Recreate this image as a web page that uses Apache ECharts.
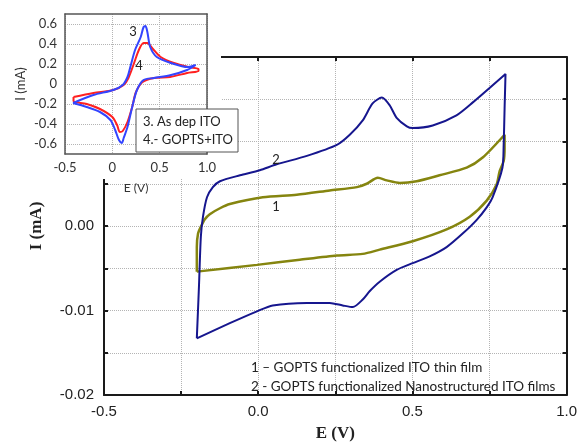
<!DOCTYPE html>
<html>
<head>
<meta charset="utf-8">
<script src="https://cdn.jsdelivr.net/npm/echarts@6/dist/echarts.min.js"></script>
<style>
  html, body { margin: 0; padding: 0; background: #fff; }
  #main { width: 580px; height: 447px; }
</style>
</head>
<body>
<div id="main"></div>
<script>
// curva 1 - GOPTS / ITO capa fina
var curve1E = [-0.199,-0.199,-0.195,-0.186,-0.173,-0.157,-0.124,-0.092,0.015,0.125,0.232,0.320,0.352,0.388,0.417,0.459,0.514,0.588,0.676,0.728,0.799,0.799,0.796,0.783,0.773,0.741,0.686,0.611,0.501,0.394,0.339,0.255,0.135,-0.004,-0.199];
var curve1I = [-0.0054,-0.0025,-0.0009,-0.0001,0.0008,0.0014,0.0021,0.0026,0.0034,0.0037,0.0042,0.0046,0.0050,0.0057,0.0054,0.0051,0.0053,0.0060,0.0069,0.0081,0.0108,0.0092,0.0077,0.0065,0.0049,0.0030,0.0011,-0.0004,-0.0018,-0.0028,-0.0033,-0.0035,-0.0040,-0.0046,-0.0054];
// curva 2 - GOPTS / ITO nanoestructurado
var curve2E = [-0.199,-0.192,-0.186,-0.179,-0.166,-0.147,-0.124,-0.059,0.005,0.060,0.158,0.255,0.297,0.339,0.371,0.401,0.426,0.449,0.482,0.501,0.566,0.643,0.695,0.802,0.799,0.796,0.792,0.760,0.741,0.708,0.663,0.611,0.556,0.501,0.449,0.394,0.362,0.339,0.307,0.274,0.232,0.158,0.047,-0.004,-0.092,-0.199];
var curve2I = [-0.0133,-0.0071,-0.0013,0.0011,0.0034,0.0046,0.0053,0.0060,0.0066,0.0073,0.0083,0.0096,0.0108,0.0125,0.0145,0.0152,0.0143,0.0128,0.0118,0.0116,0.0119,0.0131,0.0146,0.0180,0.0139,0.0096,0.0069,0.0034,0.0022,0.0007,-0.0009,-0.0025,-0.0036,-0.0044,-0.0052,-0.0066,-0.0077,-0.0087,-0.0096,-0.0094,-0.0091,-0.0091,-0.0094,-0.0101,-0.0115,-0.0133];
// inset: 3 As dep ITO
var curve3E = [-0.415,-0.20,0.01,0.11,0.16,0.19,0.24,0.30,0.33,0.35,0.37,0.40,0.47,0.62,0.80,0.88,0.79,0.62,0.44,0.33,0.26,0.21,0.16,0.12,0.10,0.07,0.03,-0.02,-0.13,-0.27,-0.415];
var curve3I = [-0.19,-0.11,-0.06,-0.01,0.07,0.17,0.34,0.47,0.57,0.58,0.52,0.37,0.27,0.21,0.17,0.19,0.14,0.09,0.06,0.04,-0.06,-0.23,-0.43,-0.54,-0.59,-0.56,-0.46,-0.36,-0.28,-0.23,-0.19];
// inset: 4 GOPTS+ITO
var curve4E = [-0.41,-0.20,0.01,0.12,0.17,0.23,0.28,0.33,0.37,0.42,0.51,0.65,0.80,0.91,0.91,0.79,0.61,0.44,0.32,0.25,0.21,0.16,0.11,0.08,0.05,0.00,-0.13,-0.27,-0.41,-0.41];
var curve4I = [-0.13,-0.09,-0.06,-0.01,0.06,0.21,0.34,0.41,0.41,0.36,0.27,0.21,0.17,0.15,0.13,0.11,0.07,0.06,0.02,-0.08,-0.23,-0.38,-0.47,-0.48,-0.41,-0.33,-0.25,-0.20,-0.17,-0.13];
var insetYTicks = [-0.6,-0.4,-0.2,0,0.2,0.4,0.6];

function pares(e, i) {
  return e.map(function (v, k) { return [v, i[k]]; });
}

var myChart = echarts.init(document.getElementById('main'));

var ejeNegro = { onZero: false, lineStyle: { color: '#1a1a1a', width: 2 } };
var ejeGris = { onZero: false, lineStyle: { color: '#555', width: 1.5 } };
var rejilla = { show: true, lineStyle: { color: '#b4b4b4', type: 'dotted', width: 1 } };
var ticks = { inside: true, length: 4, lineStyle: { color: '#1a1a1a', width: 2 } };
var fuenteNum = 'Liberation Sans';
var fuenteTxt = 'Lato';

var option = {
  animation: false,
  backgroundColor: '#fff',
  grid: [
    { left: 104, right: 13, top: 57, bottom: 47 },
    { left: 65, top: 14, width: 142, height: 140, z: 10 }
  ],
  xAxis: [
    {
      gridIndex: 0, type: 'value', min: -0.5, max: 1.0, interval: 0.25,
      name: 'E (V)', nameLocation: 'middle', nameGap: 30,
      nameTextStyle: { fontFamily: 'Liberation Serif', fontWeight: 'bold', fontSize: 17, color: '#222' },
      axisLine: ejeNegro, axisTick: ticks,
      axisLabel: {
        margin: 9, fontFamily: fuenteNum, fontSize: 15, color: '#222',
        formatter: function (v) { return Math.round(v * 4) % 2 === 0 ? v.toFixed(1) : ''; }
      },
      splitLine: rejilla
    },
    {
      gridIndex: 0, type: 'value', min: -0.5, max: 1.0, interval: 0.25, position: 'top',
      axisLine: ejeNegro, axisTick: ticks,
      axisLabel: { show: false }, splitLine: { show: false }
    },
    {
      gridIndex: 1, type: 'value', min: -0.5, max: 1.0, interval: 0.5, z: 10,
      name: 'E (V)', nameLocation: 'middle', nameGap: 28,
      nameTextStyle: { fontFamily: fuenteTxt, fontSize: 12, color: '#333' },
      axisLine: ejeGris, axisTick: { show: false },
      axisLabel: {
        margin: 7, fontFamily: fuenteTxt, fontSize: 13, color: '#333',
        formatter: function (v) { return v === 0 ? '0' : v.toFixed(1); }
      },
      splitLine: rejilla
    },
    {
      gridIndex: 1, type: 'value', min: -0.5, max: 1.0, interval: 0.5, position: 'top', z: 10,
      axisLine: ejeGris, axisTick: { show: false }, axisLabel: { show: false }, splitLine: { show: false }
    }
  ],
  yAxis: [
    {
      gridIndex: 0, type: 'value', min: -0.02, max: 0.02, interval: 0.005,
      name: 'I (mA)', nameLocation: 'middle', nameGap: 59,
      nameTextStyle: { fontFamily: 'Liberation Serif', fontWeight: 'bold', fontSize: 17, color: '#222' },
      axisLine: ejeNegro, axisTick: ticks,
      axisLabel: {
        margin: 10, fontFamily: fuenteNum, fontSize: 15, color: '#222',
        formatter: function (v) { return Math.round(v * 200) % 2 === 0 ? v.toFixed(2) : ''; }
      },
      splitLine: rejilla
    },
    {
      gridIndex: 0, type: 'value', min: -0.02, max: 0.02, interval: 0.005, position: 'right',
      axisLine: ejeNegro, axisTick: ticks,
      axisLabel: { show: false }, splitLine: { show: false }
    },
    {
      gridIndex: 1, type: 'value', min: -0.7, max: 0.7, z: 10,
      name: 'I (mA)', nameLocation: 'middle', nameGap: 38,
      nameTextStyle: { fontFamily: fuenteTxt, fontSize: 13, color: '#333' },
      axisLine: ejeGris, axisTick: { show: false },
      axisLabel: {
        margin: 8, fontFamily: fuenteTxt, fontSize: 13, color: '#333',
        customValues: insetYTicks,
        formatter: function (v) { return Math.abs(v) < 1e-9 ? '0' : v.toFixed(1); }
      },
      splitLine: { show: false }
    },
    {
      gridIndex: 1, type: 'value', min: -0.7, max: 0.7, position: 'right', z: 10,
      axisLine: ejeGris, axisTick: { show: false }, axisLabel: { show: false }, splitLine: { show: false }
    }
  ],
  series: [
    {
      name: '1', type: 'line', xAxisIndex: 0, yAxisIndex: 0,
      data: pares(curve1E, curve1I), showSymbol: false, smooth: 0.25,
      lineStyle: { color: '#85850f', width: 2.5 }
    },
    {
      name: '2', type: 'line', xAxisIndex: 0, yAxisIndex: 0,
      data: pares(curve2E, curve2I), showSymbol: false, smooth: 0.25,
      lineStyle: { color: '#16168e', width: 2 }
    },
    {
      name: '4', type: 'line', xAxisIndex: 2, yAxisIndex: 2, z: 11,
      data: pares(curve4E, curve4I), showSymbol: false, smooth: 0.3,
      lineStyle: { color: '#ff2020', width: 2 },
      markLine: {
        symbol: 'none', silent: true, label: { show: false }, z: 10,
        lineStyle: { color: '#b4b4b4', type: 'dotted', width: 1 },
        emphasis: { disabled: true },
        data: insetYTicks.map(function (v) { return { yAxis: v }; })
      }
    },
    {
      name: '3', type: 'line', xAxisIndex: 2, yAxisIndex: 2, z: 12,
      data: pares(curve3E, curve3I), showSymbol: false, smooth: 0.3,
      lineStyle: { color: '#3344ff', width: 2 }
    }
  ],
  graphic: [
    { type: 'rect', z: 5, shape: { x: 0, y: 0, width: 221, height: 179 }, style: { fill: '#fff' } },
    { type: 'rect', z: 20, shape: { x: 136, y: 109, width: 102, height: 43 }, style: { fill: '#fff', stroke: '#555', lineWidth: 1 } },
    { type: 'text', z: 21, x: 143, y: 122, style: { text: '3. As dep ITO', font: '13px Lato', fill: '#222', textVerticalAlign: 'middle' } },
    { type: 'text', z: 21, x: 143, y: 140, style: { text: '4.- GOPTS+ITO', font: '13px Lato', fill: '#222', textVerticalAlign: 'middle' } },
    { type: 'text', z: 21, x: 133, y: 32, style: { text: '3', font: '13px Lato', fill: '#222', textAlign: 'center', textVerticalAlign: 'middle' } },
    { type: 'text', z: 21, x: 139, y: 66, style: { text: '4', font: '13px Lato', fill: '#222', textAlign: 'center', textVerticalAlign: 'middle' } },
    { type: 'text', z: 21, x: 276, y: 160, style: { text: '2', font: '13px Lato', fill: '#222', textAlign: 'center', textVerticalAlign: 'middle' } },
    { type: 'text', z: 21, x: 276, y: 207, style: { text: '1', font: '13px Lato', fill: '#222', textAlign: 'center', textVerticalAlign: 'middle' } },
    { type: 'text', z: 21, x: 251, y: 368, style: { text: '1 \u2013 GOPTS functionalized ITO thin film', font: '13.5px Lato', fill: '#222', textVerticalAlign: 'middle' } },
    { type: 'text', z: 21, x: 251, y: 387, style: { text: '2 - GOPTS functionalized Nanostructured ITO films', font: '13.5px Lato', fill: '#222', textVerticalAlign: 'middle' } }
  ]
};

myChart.setOption(option);
</script>
</body>
</html>
